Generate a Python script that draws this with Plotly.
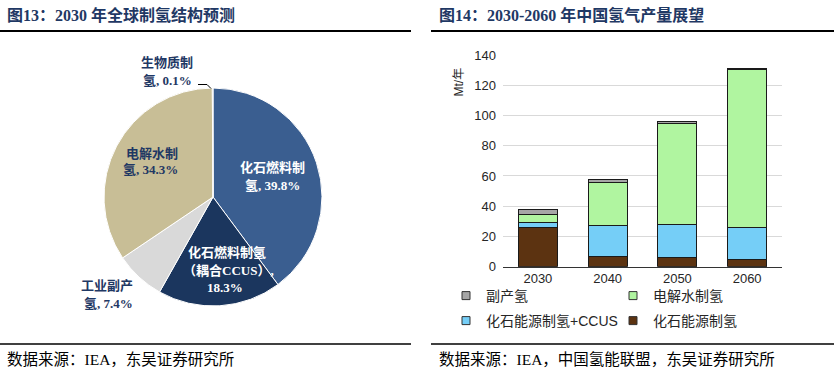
import plotly.graph_objects as go

W, H = 834, 385

# ---- Pie data (left) ----
pie_labels = ["化石燃料制氢", "化石燃料制氢（耦合CCUS）", "工业副产氢", "电解水制氢", "生物质制氢"]
pie_values = [39.8, 18.3, 7.4, 34.3, 0.1]
pie_colors = ["#3A5E90", "#1B365E", "#D9D9D9", "#C8BE96", "#7F7F7F"]

# ---- Bar data (right) ----
years = ["2030", "2040", "2050", "2060"]
fossil = [26, 7, 6, 5]
fossil_ccus = [3, 20.5, 22, 21]
electrolysis = [5.5, 28.5, 67, 104.5]
byproduct = [3, 2, 1, 0.3]
yticks = [0, 20, 40, 60, 80, 100, 120, 140]


def px(x):
    return x / W


def py(y):
    return 1 - y / H


fig = go.Figure()

# pie: centre (213,197), radius 109
fig.add_trace(go.Pie(
    labels=pie_labels, values=pie_values, sort=False, direction="clockwise",
    rotation=0, marker=dict(colors=pie_colors, line=dict(color="white", width=1)),
    textinfo="none", hoverinfo="label+percent", showlegend=False,
    domain=dict(x=[px(104), px(322)], y=[py(306), py(88)]),
))

bar_series = [
    ("化石能源制氢", fossil, "#5C3311", "legend2"),
    ("化石能源制氢+CCUS", fossil_ccus, "#75CEF7", "legend2"),
    ("电解水制氢", electrolysis, "#B0F5A0", "legend"),
    ("副产氢", byproduct, "#A6A6A6", "legend"),
]
for name, vals, col, lg in bar_series:
    fig.add_trace(go.Bar(
        x=years, y=vals, name=name, width=0.56,
        marker=dict(color=col, line=dict(color="#1a1a1a", width=1)),
        showlegend=False, hoverinfo="x+y+name",
    ))
# small square legend keys (legend-only proxies)
for name, vals, col, lg in bar_series:
    fig.add_trace(go.Scatter(
        x=[None], y=[None], mode="markers", name=name, legend=lg,
        marker=dict(symbol="square", size=8, color=col, line=dict(color="#333333", width=1)),
    ))

serif = "Liberation Serif, Noto Sans CJK SC"
sans = "Liberation Sans, Arial, Noto Sans CJK SC"
navy = "#1F3864"

leg_common = dict(orientation="h", xanchor="left", yanchor="top",
                  traceorder="reversed", entrywidth=122, entrywidthmode="pixels",
                  font=dict(family=sans, size=14, color="#262626"),
                  itemwidth=30, bgcolor="rgba(0,0,0,0)", tracegroupgap=0)

fig.update_layout(
    width=W, height=H, margin=dict(l=0, r=0, t=0, b=0, pad=0, autoexpand=False),
    paper_bgcolor="white", plot_bgcolor="white",
    barmode="stack", bargap=0.44,
    xaxis=dict(domain=[px(503), px(782)], showline=True, linecolor="#333333",
               linewidth=1, ticks="", tickfont=dict(family=sans, size=13, color="#262626"),
               showgrid=False, fixedrange=True, automargin=False),
    yaxis=dict(domain=[py(266.7), py(55)], range=[0, 140], tickvals=yticks,
               showgrid=True, gridcolor="#D9D9D9", gridwidth=1, zeroline=False,
               tickfont=dict(family=sans, size=13, color="#262626"), ticks="",
               ticklabelstandoff=6, fixedrange=True, automargin=False),
    legend=dict(x=px(446), y=py(280), **leg_common),
    legend2=dict(x=px(446), y=py(305), **leg_common),
)

shapes = []
# title underlines and bottom lines
for x0, x1 in [(0, 411), (431, 834)]:
    shapes.append(dict(type="line", xref="paper", yref="paper", x0=px(x0), x1=px(x1),
                       y0=py(31), y1=py(31), line=dict(color="black", width=2)))
    shapes.append(dict(type="line", xref="paper", yref="paper", x0=px(x0), x1=px(x1),
                       y0=py(344), y1=py(344), line=dict(color="black", width=1.5)))
# leader line for biomass label
shapes.append(dict(type="path", xref="paper", yref="paper",
                   path=f"M {px(198)},{py(84.5)} L {px(207)},{py(84.5)} L {px(211)},{py(88.5)}",
                   line=dict(color="black", width=1)))
fig.update_layout(shapes=shapes)

ann = []
def txt(x, y, s, size=13, color=navy, family=serif, bold=True, anchor="center"):
    ann.append(dict(x=px(x), y=py(y), xref="paper", yref="paper", text=(f"<b>{s}</b>" if bold else s),
                    showarrow=False, xanchor=anchor, yanchor="middle",
                    font=dict(family=family, size=size, color=color)))

txt(5, 15, "图13：2030 年全球制氢结构预测", size=16, anchor="left")
txt(437, 15, "图14：2030-2060 年中国氢气产量展望", size=16, anchor="left")
txt(5, 359, "数据来源：IEA，东吴证券研究所", size=15.5, color="black", bold=False, anchor="left")
txt(437, 359, "数据来源：IEA，中国氢能联盟，东吴证券研究所", size=15.5, color="black", bold=False, anchor="left")

# pie labels
txt(272, 168, "化石燃料制", color="white")
txt(272, 186, "氢, 39.8%", color="white")
txt(227, 252, "化石燃料制氢", color="white")
txt(228, 270, "（耦合CCUS）,", color="white")
txt(225, 287, "18.3%", color="white")
txt(152, 153, "电解水制")
txt(150, 170, "氢, 34.3%")
txt(167, 63, "生物质制")
txt(167, 80, "氢, 0.1%")
txt(107, 285, "工业副产")
txt(108, 303, "氢, 7.4%")

# y-axis unit
ann.append(dict(x=px(458), y=py(66), xref="paper", yref="paper", text="Mt/年", showarrow=False,
                textangle=-90, font=dict(family=sans, size=12, color="#262626")))
fig.update_layout(annotations=ann)

fig.write_html("out.html", config={"displayModeBar": False},
               post_script="document.body.style.margin='0';document.body.style.overflow='hidden';")
